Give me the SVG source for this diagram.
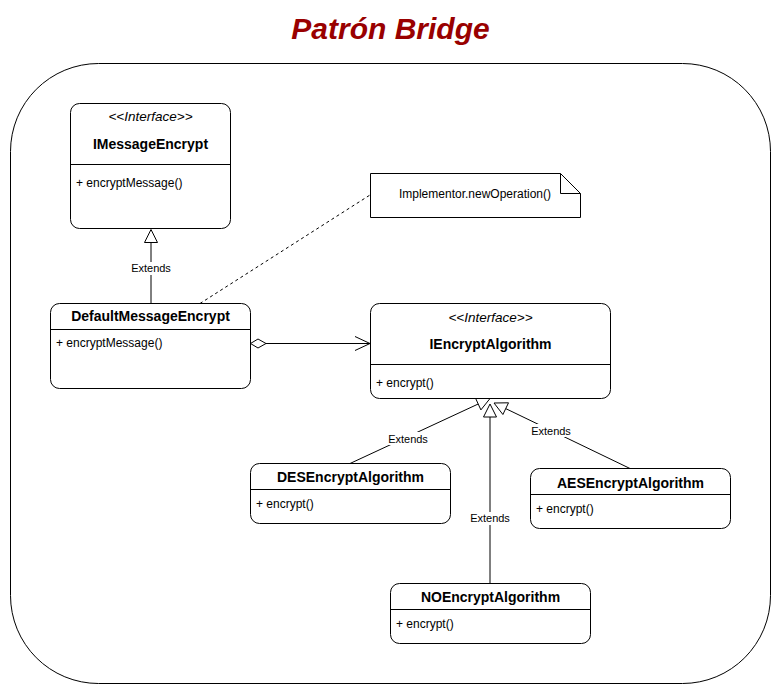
<svg xmlns="http://www.w3.org/2000/svg" width="782" height="694" viewBox="0 0 782 694">
<style>
text{font-family:"Liberation Sans",Arial,sans-serif;fill:#000}
.box{fill:#fff;stroke:#000;stroke-width:1}
.div{stroke:#000;stroke-width:1}
.st{font-size:13.5px;font-style:italic;text-anchor:middle}
.tt{font-size:14px;font-weight:bold;text-anchor:middle}
.bd{font-size:12px}
.lbl{font-size:11px;text-anchor:middle}
.ln{fill:none;stroke:#000;stroke-width:1}
.tri{fill:#fff;stroke:#000;stroke-width:1}
.lb{fill:#fff}
</style>
<rect width="782" height="694" fill="#fff"/>
<text x="390.5" y="38.5" style="font-size:30px;font-weight:bold;font-style:italic;text-anchor:middle;fill:#990000">Patrón Bridge</text>
<rect x="10.5" y="63.5" width="760" height="620" rx="88" ry="88" fill="none" stroke="#000" stroke-width="1"/>

<g id="connectors">
  <line class="ln" x1="151" y1="304" x2="151" y2="242.5"/>
  <polygon class="tri" points="151,229.5 144.5,242.5 157.5,242.5"/>
  <rect class="lb" x="130" y="262" width="42" height="13"/>
  <text class="lbl" x="151" y="272">Extends</text>

  <line class="ln" x1="200" y1="303.5" x2="370" y2="195" stroke-dasharray="3 3"/>

  <line class="ln" x1="266" y1="343.5" x2="370" y2="343.5"/>
  <polygon points="250.5,343.5 258,339 266,343.5 258,348" fill="#fff" stroke="#000" stroke-width="1"/>
  <polyline class="ln" points="355,336.5 370,343.5 355,350.5"/>

  <line class="ln" x1="350" y1="463.5" x2="478.2" y2="404"/>
  <line class="ln" x1="630" y1="468.5" x2="505.7" y2="408.6"/>
  <line class="ln" x1="490" y1="583.5" x2="490" y2="417"/>
  <polygon class="tri" points="490,404 483.5,417 496.5,417"/>
  <polygon class="tri" points="490,398.5 480.9,409.9 475.5,398.1"/>
  <polygon class="tri" points="494,403 508.5,402.8 502.9,414.5"/>
  <rect class="lb" x="387" y="432" width="42" height="13"/>
  <text class="lbl" x="408" y="442.5">Extends</text>
  <rect class="lb" x="530" y="424" width="42" height="13"/>
  <text class="lbl" x="551" y="434.5">Extends</text>
  <rect class="lb" x="469" y="512" width="42" height="13"/>
  <text class="lbl" x="490" y="522">Extends</text>
</g>

<g id="note">
  <polygon class="box" points="370.5,173.5 560.5,173.5 580.5,193.5 580.5,217.5 370.5,217.5"/>
  <polyline class="ln" points="560.5,173.5 560.5,193.5 580.5,193.5"/>
  <text class="bd" x="475" y="197.5" text-anchor="middle">Implementor.newOperation()</text>
</g>

<g id="IMessageEncrypt">
  <rect class="box" x="70.5" y="103.5" width="160" height="125" rx="9"/>
  <line class="div" x1="70.5" y1="164.5" x2="230.5" y2="164.5"/>
  <text class="st" x="150.5" y="121">&lt;&lt;Interface&gt;&gt;</text>
  <text class="tt" x="150.5" y="149">IMessageEncrypt</text>
  <text class="bd" x="76" y="187">+ encryptMessage()</text>
</g>

<g id="DefaultMessageEncrypt">
  <rect class="box" x="50.5" y="303.5" width="200" height="85" rx="9"/>
  <line class="div" x1="50.5" y1="329.5" x2="250.5" y2="329.5"/>
  <text class="tt" x="150.5" y="321">DefaultMessageEncrypt</text>
  <text class="bd" x="56" y="346.5">+ encryptMessage()</text>
</g>

<g id="IEncryptAlgorithm">
  <rect class="box" x="370.5" y="303.5" width="240" height="95" rx="9"/>
  <line class="div" x1="370.5" y1="364.5" x2="610.5" y2="364.5"/>
  <text class="st" x="490.5" y="321.5">&lt;&lt;Interface&gt;&gt;</text>
  <text class="tt" x="490.5" y="349">IEncryptAlgorithm</text>
  <text class="bd" x="376" y="387">+ encrypt()</text>
</g>

<g id="DESEncryptAlgorithm">
  <rect class="box" x="250.5" y="463.5" width="200" height="60" rx="9"/>
  <line class="div" x1="250.5" y1="489.5" x2="450.5" y2="489.5"/>
  <text class="tt" x="350.5" y="482">DESEncryptAlgorithm</text>
  <text class="bd" x="256" y="508">+ encrypt()</text>
</g>

<g id="AESEncryptAlgorithm">
  <rect class="box" x="530.5" y="468.5" width="200" height="60" rx="9"/>
  <line class="div" x1="530.5" y1="494.5" x2="730.5" y2="494.5"/>
  <text class="tt" x="630.5" y="487.5">AESEncryptAlgorithm</text>
  <text class="bd" x="536" y="512.5">+ encrypt()</text>
</g>

<g id="NOEncryptAlgorithm">
  <rect class="box" x="390.5" y="583.5" width="200" height="60" rx="9"/>
  <line class="div" x1="390.5" y1="609.5" x2="590.5" y2="609.5"/>
  <text class="tt" x="490.5" y="602">NOEncryptAlgorithm</text>
  <text class="bd" x="396" y="627.5">+ encrypt()</text>
</g>
</svg>
